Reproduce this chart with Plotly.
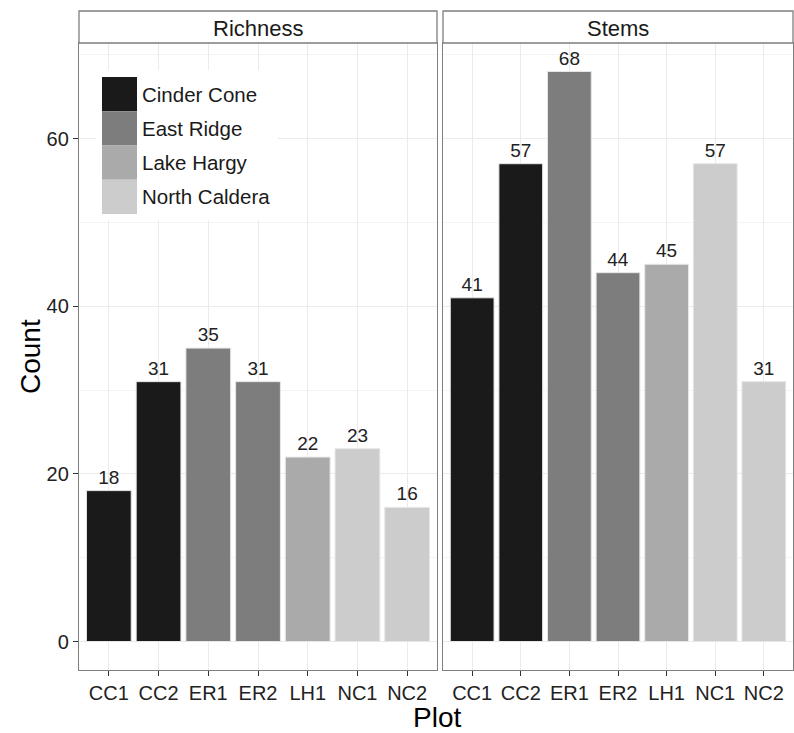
import plotly.graph_objects as go
from plotly.subplots import make_subplots

plots = ["CC1", "CC2", "ER1", "ER2", "LH1", "NC1", "NC2"]
regions = ["Cinder Cone", "Cinder Cone", "East Ridge", "East Ridge", "Lake Hargy", "North Caldera", "North Caldera"]
richness = [18, 31, 35, 31, 22, 23, 16]
stems = [41, 57, 68, 44, 45, 57, 31]
facets = ["Richness", "Stems"]
region_names = ["Cinder Cone", "East Ridge", "Lake Hargy", "North Caldera"]
region_colors = {"Cinder Cone": "#1A1A1A", "East Ridge": "#7D7D7D",
                 "Lake Hargy": "#AAAAAA", "North Caldera": "#CCCCCC"}

W, H = 794, 733
FONT = "Liberation Sans, Arial"
def px(x): return x / W
def py(y): return 1 - y / H

fig = make_subplots(rows=1, cols=2, shared_yaxes=True, horizontal_spacing=0.01)

for i, vals in enumerate([richness, stems]):
    fig.add_trace(go.Bar(
        x=plots, y=vals, width=0.9,
        marker=dict(color=[region_colors[r] for r in regions],
                    line=dict(color="#e6e6e6", width=1)),
        text=[str(v) for v in vals], textposition="outside",
        textfont=dict(size=19, color="#222222", family=FONT),
        cliponaxis=False, constraintext="none", showlegend=False,
        hoverinfo="x+y"), row=1, col=i + 1)

left_dom = [px(79), px(437)]
right_dom = [px(443), px(793)]
ydom = [py(670), py(43)]

axis_common = dict(showline=True, linecolor="#7f7f7f", linewidth=1.3, mirror=True,
                   showgrid=True, gridcolor="#ebebeb", gridwidth=1,
                   ticks="outside", ticklen=5, tickcolor="#333333", zeroline=False,
                   tickfont=dict(size=20, color="#222222", family=FONT))

fig.update_xaxes(**axis_common, range=[-0.6, 6.6], type="category")
fig.update_layout(xaxis=dict(domain=left_dom), xaxis2=dict(domain=right_dom))
fig.update_yaxes(**axis_common, range=[-3.4, 71.4], tickvals=[0, 20, 40, 60],
                 minor=dict(tickvals=[10, 30, 50, 70], showgrid=True, gridcolor="#f4f4f4", ticks=""))
fig.update_layout(yaxis=dict(domain=ydom), yaxis2=dict(domain=ydom, showticklabels=False, ticks=""))

shapes = []
annotations = []
# strips
for dom, name in zip([left_dom, right_dom], facets):
    shapes.append(dict(type="rect", xref="paper", yref="paper", x0=dom[0], x1=dom[1],
                       y0=py(43), y1=py(11), fillcolor="white",
                       line=dict(color="#7f7f7f", width=1.3)))
    annotations.append(dict(x=(dom[0] + dom[1]) / 2, y=py(28), xref="paper", yref="paper",
                            text=name, showarrow=False, xanchor="center", yanchor="middle",
                            font=dict(size=22, color="#1a1a1a", family=FONT)))

# legend (manual, inside left panel)
key_top = 77
key_h = 34.25
shapes.append(dict(type="rect", xref="paper", yref="paper", x0=px(96), x1=px(278),
                   y0=py(220), y1=py(70), fillcolor="white", line=dict(width=0), layer="above"))
for k, name in enumerate(region_names):
    y0 = key_top + k * key_h
    shapes.append(dict(type="rect", xref="paper", yref="paper", x0=px(102), x1=px(137),
                       y0=py(y0 + key_h), y1=py(y0), fillcolor=region_colors[name],
                       line=dict(width=0), layer="above"))
    annotations.append(dict(x=px(140), y=py(y0 + key_h / 2), xref="paper", yref="paper",
                            text=name, showarrow=False, xanchor="left", yanchor="middle",
                            font=dict(size=20.5, color="#1a1a1a", family=FONT)))

annotations.append(dict(x=px(437), y=py(717), xref="paper", yref="paper", text="Plot",
                        showarrow=False, xanchor="center", yanchor="middle",
                        font=dict(size=28, color="#000000", family=FONT)))
annotations.append(dict(x=px(30), y=py(357), xref="paper", yref="paper", text="Count",
                        showarrow=False, textangle=-90, xanchor="center", yanchor="middle",
                        font=dict(size=28, color="#000000", family=FONT)))

fig.update_layout(width=W, height=H, margin=dict(l=0, r=0, t=0, b=0, autoexpand=False),
                  plot_bgcolor="white", paper_bgcolor="white",
                  shapes=shapes, annotations=annotations, bargap=0.1,
                  font=dict(family=FONT))

fig.write_html("out.html", config={"displayModeBar": False})
with open("out.html", "r", encoding="utf-8") as f:
    html = f.read()
html = html.replace("<head>", "<head><style>html,body{margin:0;padding:0;overflow:hidden;}</style>", 1)
with open("out.html", "w", encoding="utf-8") as f:
    f.write(html)
